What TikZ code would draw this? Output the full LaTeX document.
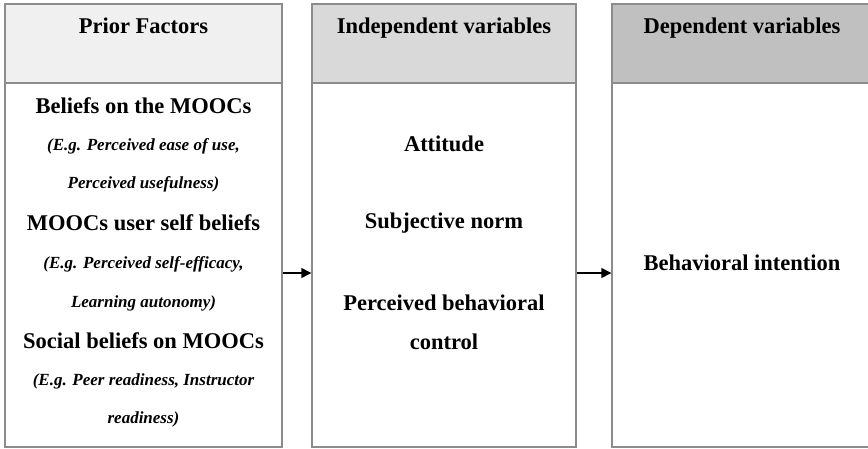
\documentclass[tikz,border=0pt]{standalone}
\usepackage{fontspec}
\setmainfont{Liberation Serif}
\usetikzlibrary{arrows.meta,calc}
\definecolor{framegray}{HTML}{8C8C8C}
\definecolor{headA}{HTML}{F0F0F0}
\definecolor{headB}{HTML}{D9D9D9}
\definecolor{headC}{HTML}{C0C0C0}
\tikzset{
  colbox/.style={draw=framegray, line width=1.4pt, fill=white, rectangle, inner sep=0pt},
  headbox/.style={draw=framegray, line width=1.4pt, rectangle, inner sep=0pt},
  big/.style={font=\fontsize{22.5}{27}\selectfont\bfseries, anchor=base, inner sep=0pt},
  small/.style={font=\fontsize{17}{20}\selectfont\bfseries\itshape, anchor=base, inner sep=0pt},
  flow/.style={line width=1.4pt, -{Triangle[length=10pt,width=10pt]}}
}
\begin{document}
\begin{tikzpicture}[x=1pt,y=-1pt]
\useasboundingbox (0,0) rectangle (868,448);
% column bodies
\node[colbox, minimum width=277pt, minimum height=443pt] (b1) at (143.5,225.5) {};
\node[colbox, minimum width=264pt, minimum height=443pt] (b2) at (444,225.5) {};
\node[colbox, minimum width=257pt, minimum height=443pt] (b3) at (740.5,225.5) {};
% headers
\node[headbox, fill=headA, minimum width=277pt, minimum height=79pt] (h1) at (143.5,43.5) {};
\node[headbox, fill=headB, minimum width=264pt, minimum height=79pt] (h2) at (444,43.5) {};
\node[headbox, fill=headC, minimum width=257pt, minimum height=79pt] (h3) at (740.5,43.5) {};
\node[big] (t1) at (143.5,33) {Prior Factors};
\node[big] (t2) at (444,33) {Independent variables};
\node[big] (t3) at (742,33) {Dependent variables};
% column 1
\node[big]   (p1) at (143.5,113) {Beliefs on the MOOCs};
\node[small] (p2) at (143.5,150) {(E.g. Perceived ease of use,};
\node[small] (p3) at (143.5,188) {Perceived usefulness)};
\node[big]   (p4) at (143.5,230) {MOOCs user self beliefs};
\node[small] (p5) at (143.5,268) {(E.g. Perceived self-efficacy,};
\node[small] (p6) at (143.5,307) {Learning autonomy)};
\node[big]   (p7) at (143.5,348) {Social beliefs on MOOCs};
\node[small] (p8) at (143.5,385) {(E.g. Peer readiness, Instructor};
\node[small] (p9) at (143.5,423) {readiness)};
% column 2
\node[big] (i1) at (444,151) {Attitude};
\node[big] (i2) at (444,228) {Subjective norm};
\node[big] (i3) at (444,310) {Perceived behavioral};
\node[big] (i4) at (444,349) {control};
% column 3
\node[big] (d1) at (742,270) {Behavioral intention};
% arrows
\coordinate (ay) at (0,273);
\draw[flow] (b1.east |- ay) -- (b2.west |- ay);
\draw[flow] (b2.east |- ay) -- (b3.west |- ay);
\end{tikzpicture}
\end{document}
